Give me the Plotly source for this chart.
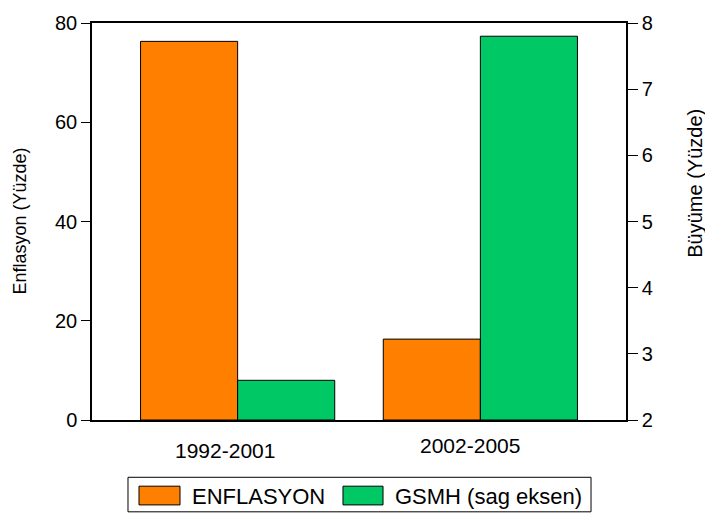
import plotly.graph_objects as go

categories = ["1992-2001", "2002-2005"]
enflasyon = [76.3, 16.3]
gsmh = [2.6, 7.8]
left_ticks = [0, 20, 40, 60, 80]
right_ticks = [2, 3, 4, 5, 6, 7, 8]
GSMH_BASE = 2

ORANGE = "#FF8000"
GREEN = "#00C864"
FONT = "Liberation Sans, Arial, sans-serif"

fig = go.Figure()
fig.add_trace(go.Bar(x=categories, y=enflasyon, name="ENFLASYON", yaxis="y",
                     marker=dict(color=ORANGE, line=dict(color="black", width=1)),
                     width=0.4, offset=-0.4, showlegend=False))
fig.add_trace(go.Bar(x=categories, y=[v - GSMH_BASE for v in gsmh], base=GSMH_BASE,
                     name="GSMH (sag eksen)", yaxis="y2",
                     marker=dict(color=GREEN, line=dict(color="black", width=1)),
                     width=0.4, offset=0.0, showlegend=False))

fig.update_layout(
    width=705, height=514,
    margin=dict(l=92, r=79, t=19, b=94),
    paper_bgcolor="white", plot_bgcolor="white",
    font=dict(family=FONT, color="black", size=20),
    xaxis=dict(type="category", range=[-0.6, 1.6], showticklabels=False,
               showline=True, mirror=True, linecolor="black", linewidth=1.5,
               ticks="", showgrid=False, zeroline=False, fixedrange=True),
    yaxis=dict(range=[0, 80], tickvals=left_ticks, ticks="outside", ticklen=9,
               tickcolor="black", showline=True, linecolor="black", linewidth=1.5,
               showgrid=False, zeroline=False, tickfont=dict(size=20)),
    yaxis2=dict(range=[2, 8], tickvals=right_ticks, ticks="outside", ticklen=10,
                tickcolor="black", overlaying="y", side="right", showline=True,
                linecolor="black", linewidth=1.5, showgrid=False, zeroline=False,
                tickfont=dict(size=20)),
    showlegend=False,
)

annotations = [
    dict(text=categories[0], x=categories[0], xref="x", xshift=-13, y=-0.078, yref="paper",
         showarrow=False, font=dict(size=21), xanchor="center", yanchor="middle"),
    dict(text=categories[1], x=categories[1], xref="x", xshift=-10, y=-0.065, yref="paper",
         showarrow=False, font=dict(size=21), xanchor="center", yanchor="middle"),
    dict(text="Enflasyon (Yüzde)", textangle=-90, x=0, xshift=-73, xref="paper", xanchor="center",
         y=0.5, yref="paper", yanchor="middle", showarrow=False, font=dict(size=18)),
    dict(text="Büyüme (Yüzde)", textangle=-90, x=1, xshift=69, xref="paper", xanchor="center",
         y=0.595, yref="paper", yanchor="middle", showarrow=False, font=dict(size=20)),
    dict(text="ENFLASYON", x=0.1835, xref="paper", xanchor="left", y=-0.1915, yref="paper",
         yanchor="middle", showarrow=False, font=dict(size=22)),
    dict(text="GSMH (sag eksen)", x=0.5637, xref="paper", xanchor="left", y=-0.1915,
         yref="paper", yanchor="middle", showarrow=False, font=dict(size=22)),
]
fig.update_layout(annotations=annotations)

shapes = [
    dict(type="rect", xref="paper", yref="paper", x0=0.0674, x1=0.9345, y0=-0.2313, y1=-0.1443,
         line=dict(color="black", width=1), fillcolor="white", layer="below"),
    dict(type="rect", xref="paper", yref="paper", x0=0.088, x1=0.1648, y0=-0.2139, y1=-0.1667,
         line=dict(color="black", width=1), fillcolor=ORANGE),
    dict(type="rect", xref="paper", yref="paper", x0=0.470, x1=0.545, y0=-0.2139, y1=-0.1667,
         line=dict(color="black", width=1), fillcolor=GREEN),
]
fig.update_layout(shapes=shapes)

fig.write_html("out.html",
               config={"displayModeBar": False},
               post_script="document.body.style.margin='0';document.body.style.padding='0';"
                           "document.documentElement.style.overflow='hidden';")
